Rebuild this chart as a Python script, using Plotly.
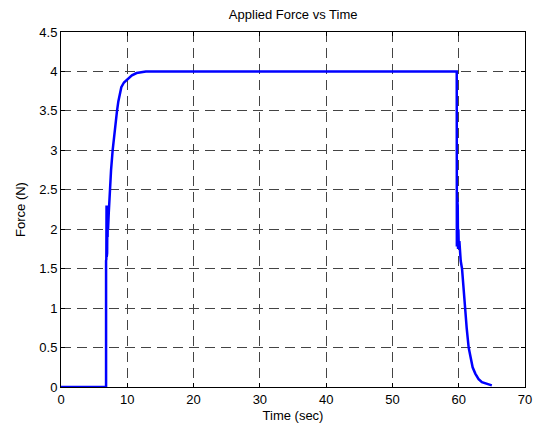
import plotly.graph_objects as go

time_sec = [0, 6.8, 6.8, 6.84, 6.87, 6.9, 6.93, 6.96, 7.0, 7.03, 7.06, 7.1, 7.2,
            7.33, 7.55, 7.79, 8.1, 8.45, 8.65, 8.85, 9.1, 9.5, 10.0, 10.7, 11.4, 12.2, 12.8,
            20, 30, 40, 50, 59.7,
            59.72, 59.76, 59.8, 59.85, 59.9, 59.95, 60.0, 60.1, 60.3, 60.5, 60.7,
            60.9, 61.2, 61.5, 61.8, 62.1, 62.5, 63.0, 63.5, 64.2, 65.0]
force_n = [0, 0, 1.6, 1.62, 2.3, 1.65, 2.25, 1.7, 2.2, 1.9, 2.3, 2.0, 2.2,
           2.5, 2.75, 3.0, 3.27, 3.5, 3.62, 3.72, 3.8, 3.86, 3.9, 3.95, 3.98, 3.995, 4.0,
           4.0, 4.0, 4.0, 4.0, 4.0,
           1.78, 2.4, 1.8, 2.3, 1.75, 2.0, 1.8, 1.85, 1.6, 1.5, 1.25,
           1.0, 0.75, 0.5, 0.35, 0.25, 0.17, 0.1, 0.06, 0.04, 0.02]

x_ticks = [0, 10, 20, 30, 40, 50, 60, 70]
y_ticks = [0, 0.5, 1, 1.5, 2, 2.5, 3, 3.5, 4, 4.5]
y_tick_labels = ["0", "0.5", "1", "1.5", "2", "2.5", "3", "3.5", "4", "4.5"]

FONT = "Liberation Sans, Arial"

fig = go.Figure()
fig.add_trace(go.Scatter(x=time_sec, y=force_n, mode="lines",
                         line=dict(color="#0000ff", width=2.5), showlegend=False))

axis_common = dict(showline=True, linecolor="black", linewidth=1, mirror="ticks",
                   ticks="inside", ticklen=4, tickcolor="black", automargin=False,
                   showgrid=True, gridcolor="#444444", griddash="10px,6px", gridwidth=1,
                   zeroline=False, tickfont=dict(family=FONT, size=13, color="black"))

fig.update_layout(
    width=534, height=423,
    margin=dict(l=61, r=9, t=32, b=36),
    paper_bgcolor="white", plot_bgcolor="white",
    title=dict(text="Applied Force vs Time", x=0.549, xanchor="center", y=0.965, yanchor="middle",
               font=dict(family=FONT, size=13, color="black")),
    xaxis=dict(range=[0, 70], tickvals=x_ticks, ticktext=[str(v) for v in x_ticks],
               title=dict(text="Time (sec)", standoff=6,
                          font=dict(family=FONT, size=13, color="black")),
               **axis_common),
    yaxis=dict(range=[0, 4.5], tickvals=y_ticks, ticktext=y_tick_labels,
               title=dict(text="Force (N)", standoff=10,
                          font=dict(family=FONT, size=13, color="black")),
               **axis_common),
)

fig.write_html(
    "out.html",
    config={"displayModeBar": False},
    post_script="document.body.style.margin='0';document.body.style.padding='0';"
                "document.documentElement.style.overflow='hidden';",
)
